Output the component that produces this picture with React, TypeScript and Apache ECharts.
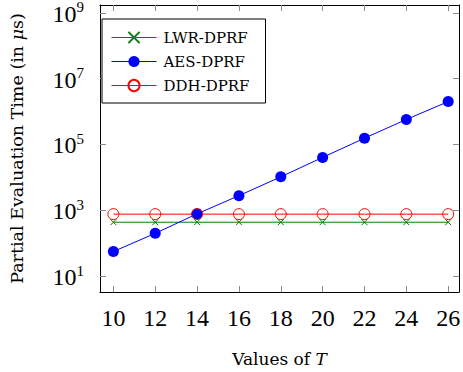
import React, { useEffect, useRef } from "react";
import * as echarts from "echarts";

const tValues = [10, 12, 14, 16, 18, 20, 22, 24, 26];
const lwrTimes = [435, 435, 435, 435, 435, 435, 435, 435, 435];
const aesTimes = [56, 200, 780, 2790, 10400, 40500, 155000, 575000, 2010000];
const ddhTimes = [766, 766, 766, 766, 766, 766, 766, 766, 766];
const yTicks = [10, 1e3, 1e5, 1e7, 1e9];
const xTicks = [10, 12, 14, 16, 18, 20, 22, 24, 26];

const SERIF = "'Liberation Serif', 'DejaVu Serif', serif";
const WIDE = "'DejaVu Serif', 'Liberation Serif', serif";

export default function App() {
  const ref = useRef<HTMLDivElement>(null);
  useEffect(() => {
    if (!ref.current) return;
    const chart = echarts.init(ref.current, null, { renderer: "svg" });
    const tickStyle = { show: true, inside: true, length: 6, lineStyle: { color: "#8c8c8c", width: 1 } };
    const yFmt = (v: number) => `{b|10}{s|${Math.round(Math.log10(v))}}`;
    const makeSeries = (name: string, data: number[], color: string, symbol: string, size: number, filled: boolean) => ({
      name,
      type: "line",
      data: tValues.map((t, i) => [t, data[i]]),
      symbol,
      symbolSize: size,
      showAllSymbol: true,
      lineStyle: { color, width: 1 },
      itemStyle: filled
        ? { color, borderColor: color, borderWidth: 0 }
        : { color: "rgba(0,0,0,0)", borderColor: color, borderWidth: 1 },
      color,
      z: 2,
    });
    chart.setOption({
      animation: false,
      grid: { left: 94, right: 2, top: 4, bottom: 73, containLabel: false },
      legend: {
        show: true,
        orient: "vertical",
        left: 102,
        top: 19,
        itemWidth: 45,
        itemHeight: 14,
        itemGap: 9,
        padding: [11, 16, 10, 9],
        borderColor: "#000",
        borderWidth: 1,
        borderRadius: 0,
        backgroundColor: "#fff",
        lineStyle: { width: 1 },
        textStyle: { fontFamily: WIDE, fontSize: 15, color: "#000", padding: [0, 0, 0, 2] },
        data: ["LWR-DPRF", "AES-DPRF", "DDH-DPRF"],
      },
      xAxis: [
        {
          type: "value",
          min: 9.36,
          max: 26.52,
          position: "bottom",
          axisLine: { show: true, lineStyle: { color: "#000", width: 1 } },
          axisTick: { ...tickStyle, customValues: xTicks },
          axisLabel: {
            customValues: xTicks,
            margin: 14,
            fontFamily: SERIF,
            fontSize: 24,
            color: "#000",
          },
          splitLine: { show: false },
          name: "Values of {i|T}",
          nameLocation: "middle",
          nameGap: 58,
          nameTextStyle: {
            fontFamily: WIDE,
            fontSize: 17,
            color: "#000",
            rich: { i: { fontFamily: WIDE, fontSize: 17, fontStyle: "italic", color: "#000" } },
          },
        },
        {
          type: "value",
          min: 9.36,
          max: 26.52,
          position: "top",
          axisLine: { show: true, lineStyle: { color: "#000", width: 1 } },
          axisTick: { ...tickStyle, customValues: xTicks },
          axisLabel: { show: false },
          splitLine: { show: false },
        },
      ],
      yAxis: [
        {
          type: "log",
          logBase: 10,
          min: 3.3,
          max: 1.73e9,
          position: "left",
          axisLine: { show: true, lineStyle: { color: "#000", width: 1 } },
          axisTick: { ...tickStyle, customValues: yTicks },
          minorTick: { show: false },
          axisLabel: {
            customValues: yTicks,
            margin: 16,
            formatter: yFmt,
            color: "#000",
            rich: {
              b: { fontFamily: SERIF, fontSize: 24, color: "#000", lineHeight: 26, verticalAlign: "bottom" },
              s: { fontFamily: SERIF, fontSize: 15, color: "#000", lineHeight: 15, verticalAlign: "top" },
            },
          },
          splitLine: { show: false },
          name: "Partial Evaluation Time (in {i|μ}s)",
          nameLocation: "middle",
          nameGap: 74,
          nameRotate: 90,
          nameTextStyle: {
            fontFamily: WIDE,
            fontSize: 17.5,
            color: "#000",
            rich: { i: { fontFamily: WIDE, fontSize: 17.5, fontStyle: "italic", color: "#000" } },
          },
        },
        {
          type: "log",
          logBase: 10,
          min: 3.3,
          max: 1.73e9,
          position: "right",
          axisLine: { show: true, lineStyle: { color: "#000", width: 1 } },
          axisTick: { ...tickStyle, customValues: yTicks },
          axisLabel: { show: false },
          splitLine: { show: false },
        },
      ],
      series: [
        makeSeries("LWR-DPRF", lwrTimes, "#008000", "path://M0,0L10,10M10,0L0,10", 6, false),
        makeSeries("AES-DPRF", aesTimes, "#0000ff", "circle", 11, true),
        makeSeries("DDH-DPRF", ddhTimes, "#ff0000", "circle", 11, false),
      ],
    });
    return () => chart.dispose();
  }, []);
  return (
    <div
      ref={ref}
      style={{ position: "fixed", left: 0, top: 0, width: 463, height: 372, background: "#fff" }}
    />
  );
}
